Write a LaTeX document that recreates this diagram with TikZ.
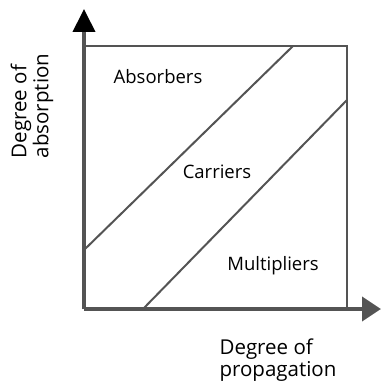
\documentclass[tikz,border=0pt]{standalone}
\usepackage{fontspec}
\setmainfont{Open Sans}
\usetikzlibrary{arrows.meta}
\tikzset{
  axis/.style={draw=black!67,line width=4pt},
  boxline/.style={draw=black!67,line width=2.6pt},
  diag/.style={draw=black!67,line width=2pt},
  region/.style={font=\fontsize{18.5}{22}\selectfont},
  axislabel/.style={font=\fontsize{20.5}{22}\selectfont,align=left,inner sep=0pt}
}
\begin{document}
\begin{tikzpicture}[x=1pt,y=-1pt]
			\useasboundingbox (0,0) rectangle (381,385);
			\coordinate (o) at (84,309);
			\coordinate (ytip) at (84,9);
			\coordinate (xtip) at (381,309);
			\coordinate (tl) at (84,46);
			\coordinate (tr) at (347,46);
			\coordinate (br) at (347,309);
			\coordinate (a1) at (84,250);
			\coordinate (a2) at (293,46);
			\coordinate (b1) at (143,309);
			\coordinate (b2) at (347,100);
			
			\draw[boxline] (tl) -- (tr) -- (br);
			\draw[diag] (a1) -- (a2);
			\draw[diag] (b1) -- (b2);
			\draw[axis,-{Triangle[length=23pt,width=22pt,black]}] (o) -- (ytip);
			\draw[axis,-{Triangle[length=19pt,width=24pt]}] (o) -- (xtip);
			
			\node[region] (absorbers) at (158,77) {Absorbers};
			\node[region] (carriers) at (217,172) {Carriers};
			\node[region] (multipliers) at (273,266) {Multipliers};
			\node[axislabel,rotate=90] (ylabel) at (32,106) {Degree of\\absorption};
			\node[axislabel] (xlabel) at (278,360) {Degree of\\propagation};
		\end{tikzpicture}
\end{document}
